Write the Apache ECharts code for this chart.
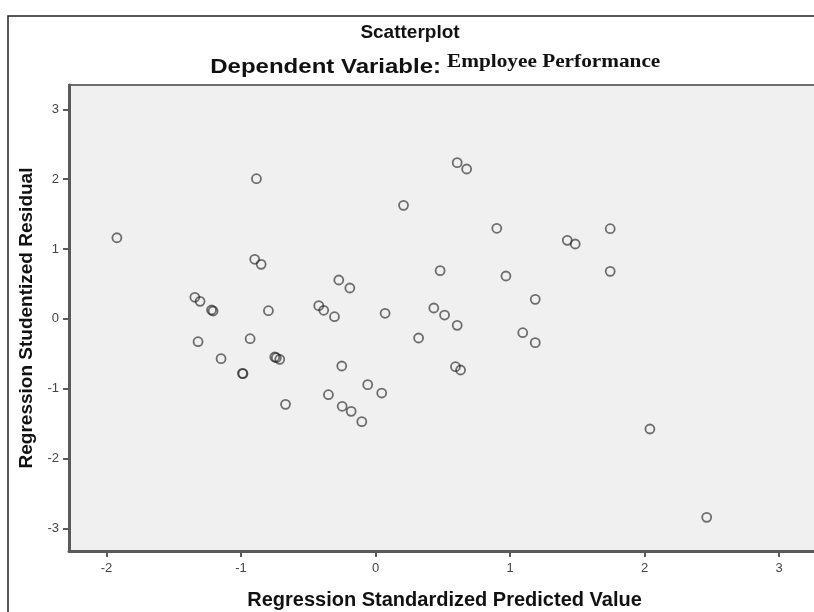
<!DOCTYPE html>
<html>
<head>
<meta charset="utf-8">
<script src="https://cdn.jsdelivr.net/npm/echarts@6/dist/echarts.min.js"></script>
<style>
  html, body { margin: 0; padding: 0; background: #ffffff; }
  #chart { width: 814px; height: 612px; }
</style>
</head>
<body>
<div id="chart"></div>
<script>
// Regression Standardized Predicted Value (x)
const predicted = [
  -1.922, -0.885, 0.208, -0.898, -0.850, -0.273, -0.191, -1.343, -1.304,
  -1.219, -1.207, -0.796, -0.422, -0.385, -0.305, 0.071, 0.433,
  0.607, 0.677, 0.901, 1.425, 1.484, 1.744, 0.480, 0.969, 1.744, 1.187, 0.513,
  -1.319, -0.932, 0.320, -1.148, -0.749, -0.737, -0.712, -0.989, -0.985,
  -0.251, -0.058, 0.046, -0.350, -0.669, -0.248, -0.181, -0.102,
  0.607, 1.094, 1.187, 0.594, 0.632, 2.039, 2.461
];
// Regression Studentized Residual (y)
const residual = [
  1.161, 2.006, 1.625, 0.852, 0.780, 0.556, 0.441, 0.308, 0.250,
  0.126, 0.112, 0.116, 0.188, 0.122, 0.030, 0.079, 0.155,
  2.236, 2.145, 1.296, 1.124, 1.071, 1.290, 0.689, 0.613, 0.680, 0.279, 0.054,
  -0.328, -0.285, -0.275, -0.571, -0.547, -0.557, -0.580, -0.781, -0.786,
  -0.676, -0.943, -1.063, -1.087, -1.225, -1.253, -1.325, -1.473,
  -0.094, -0.199, -0.342, -0.686, -0.733, -1.578, -2.843
];
const xTicks = [-2, -1, 0, 1, 2, 3];
const yTicks = [-3, -2, -1, 0, 1, 2, 3];
const chartTitle = 'Scatterplot';
const subtitleLabel = 'Dependent Variable:';
const subtitleValue = 'Employee Performance';
const xName = 'Regression Standardized Predicted Value';
const yName = 'Regression Studentized Residual';

const points = predicted.map((x, i) => [x, residual[i]]);

const chart = echarts.init(document.getElementById('chart'), null, { renderer: 'canvas' });
const axisColor = '#5a5a5a';
const labelStyle = { color: '#444', fontSize: 13, fontFamily: 'Liberation Sans, Arial, sans-serif' };

chart.setOption({
  backgroundColor: '#ffffff',
  animation: false,
  graphic: [
    { type: 'rect', x: 8, y: 16, shape: { x: 0, y: 0, width: 900, height: 700 },
      style: { fill: 'none', stroke: '#222', lineWidth: 1.5 }, silent: true },
    { type: 'text', x: 410, y: 33, style: { text: chartTitle, textAlign: 'center', textVerticalAlign: 'middle',
      font: 'bold 19px "Liberation Sans", Arial, sans-serif', fill: '#111' } },
    { type: 'text', x: 441, y: 67, scaleX: 1.2, style: { text: subtitleLabel, textAlign: 'right', textVerticalAlign: 'middle',
      font: 'bold 20px "Liberation Sans", Arial, sans-serif', fill: '#111' } },
    { type: 'text', x: 447, y: 62, scaleX: 1.12, style: { text: subtitleValue, textAlign: 'left', textVerticalAlign: 'middle',
      font: 'bold 19px "Liberation Serif", "Times New Roman", serif', fill: '#111' } }
  ],
  grid: {
    left: 69, top: 85, right: -6, bottom: 61,
    outerBoundsMode: 'none', containLabel: false,
    show: true, backgroundColor: '#f0f0f0', borderColor: '#6e6e6e', borderWidth: 2
  },
  xAxis: {
    type: 'value', min: -2.278, max: 3.303,
    name: xName, nameLocation: 'middle', nameGap: 39,
    nameTextStyle: { fontSize: 20, fontWeight: 'bold', color: '#111', fontFamily: 'Liberation Sans, Arial, sans-serif' },
    axisLine: { show: true, onZero: false, lineStyle: { color: axisColor, width: 3 } },
    axisTick: { show: true, length: 6, customValues: xTicks, lineStyle: { color: axisColor, width: 2 } },
    axisLabel: { ...labelStyle, margin: 11, customValues: xTicks },
    splitLine: { show: false }
  },
  yAxis: {
    type: 'value', min: -3.325, max: 3.348,
    name: yName, nameLocation: 'middle', nameGap: 32,
    nameTextStyle: { fontSize: 19, fontWeight: 'bold', color: '#111', fontFamily: 'Liberation Sans, Arial, sans-serif' },
    axisLine: { show: true, onZero: false, lineStyle: { color: axisColor, width: 3 } },
    axisTick: { show: true, length: 6, customValues: yTicks, lineStyle: { color: axisColor, width: 2 } },
    axisLabel: { ...labelStyle, margin: 10, customValues: yTicks },
    splitLine: { show: false }
  },
  series: [{
    type: 'scatter',
    data: points,
    symbol: 'circle',
    symbolSize: 9,
    itemStyle: { color: 'rgba(0,0,0,0)', borderColor: 'rgba(35,35,35,0.8)', borderWidth: 1.8 },
    emphasis: { disabled: true },
    silent: true
  }]
});
</script>
</body>
</html>
